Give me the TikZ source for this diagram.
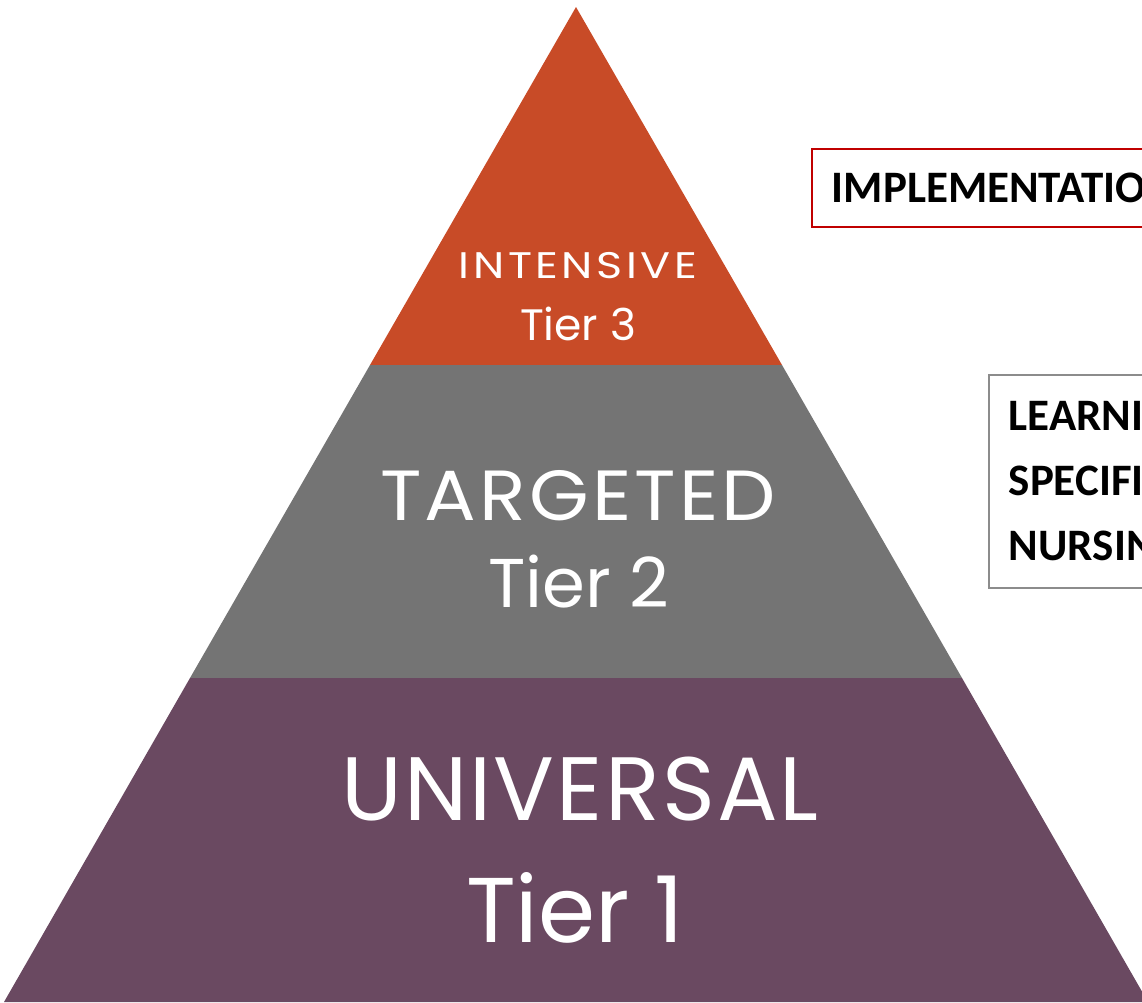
\documentclass[tikz,border=0pt]{standalone}
\usepackage{fontspec}
\setmainfont{Carlito}
\newfontfamily\tierfont{Poppins}
\definecolor{tierthree}{HTML}{C84B27}
\definecolor{tiertwo}{HTML}{747474}
\definecolor{tierone}{HTML}{6A4961}
\definecolor{redline}{HTML}{C00000}
\definecolor{greyline}{HTML}{8C8C8C}
\newcommand{\widen}[2]{\scalebox{#1}[1]{#2}}
\tikzset{tiertext/.style={text=white,inner sep=0pt,anchor=base,font=\tierfont},
  sidebox/.style={draw=#1,line width=1.5pt,anchor=north west,align=left,
    text width=420pt,inner xsep=20pt,font=\bfseries}}

\begin{document}
\begin{tikzpicture}[x=1pt,y=-1pt]
      \useasboundingbox (0,0) rectangle (1142,1002);
      \clip (0,0) rectangle (1142,1002);
      \pgfmathsetmacro{\apexx}{576}
      \pgfmathsetmacro{\apexy}{7}
      \fill[tierthree] (\apexx,\apexy) -- (782,365) -- (370,365) -- cycle;
      \fill[tiertwo] (370,365) -- (782,365) -- (962,678) -- (190,678) -- cycle;
      \fill[tierone] (190,678) -- (962,678) -- (1148,1002) -- (4,1002) -- cycle;
      \node[tiertext,font=\tierfont\fontsize{37}{40}\selectfont\addfontfeatures{LetterSpace=8}] (intensive) at (578,278) {\widen{1.2}{INTENSIVE}};
      \node[tiertext,font=\tierfont\fontsize{44}{48}\selectfont] (tierthree) at (578,340) {Tier 3};
      \node[tiertext,font=\tierfont\fontsize{71}{76}\selectfont\addfontfeatures{LetterSpace=4}] (targeted) at (578,520) {\widen{1.08}{TARGETED}};
      \node[tiertext,font=\tierfont\fontsize{69}{74}\selectfont] (tiertwo) at (579,607) {Tier 2};
      \node[tiertext,font=\tierfont\fontsize{90}{96}\selectfont\addfontfeatures{LetterSpace=2.4}] (universal) at (580,820) {UNIVERSAL};
      \node[tiertext,font=\tierfont\fontsize{92}{98}\selectfont] (tierone) at (575,942) {Tier 1};
      \node[sidebox=redline,minimum height=78pt,font=\bfseries\fontsize{45}{50}\selectfont] (impl) at (811,148) {IMPLEMENTATION};
      \node[sidebox=greyline,minimum height=213pt,font=\bfseries\fontsize{45}{65}\selectfont] (learning) at (988,374) {LEARNING\\SPECIFIC\\NURSING};
    \end{tikzpicture}
\end{document}
